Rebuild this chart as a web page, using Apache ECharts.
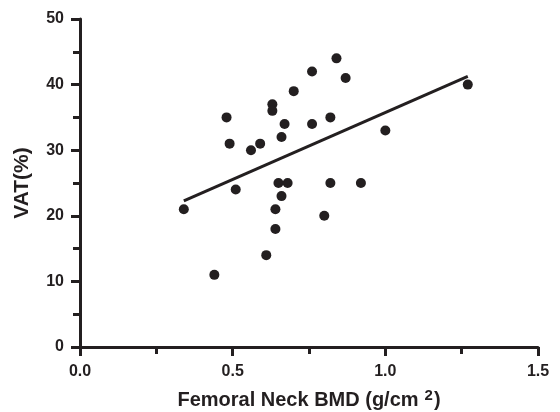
<!DOCTYPE html>
<html>
<head>
<meta charset="utf-8">
<script src="https://cdn.jsdelivr.net/npm/echarts@6/dist/echarts.min.js"></script>
<style>
  html, body { margin: 0; padding: 0; background: #fff; }
  #chart { width: 560px; height: 412px; }
</style>
</head>
<body>
<div id="chart"></div>
<script>
// femoral neck BMD (g/cm2) vs VAT (%)
var bmd = [0.48, 0.49, 0.56, 0.59, 0.63, 0.63, 0.67, 0.66, 0.70, 0.76, 0.76, 0.51, 0.65, 0.68,
           0.66, 0.84, 0.87, 0.82, 1.00, 1.27, 0.82, 0.92, 0.34, 0.44, 0.64, 0.64, 0.61, 0.80];
var vat = [35, 31, 30, 31, 37, 36, 34, 32, 39, 42, 34, 24, 25, 25,
           23, 44, 41, 35, 33, 40, 25, 25, 21, 11, 21, 18, 14, 20];
var xTicks = [0, 0.5, 1.0, 1.5];
var yTicks = [0, 10, 20, 30, 40, 50];

var ink = '#231f20';
var fontFamily = 'Liberation Sans, Arial, sans-serif';

// least squares fit drawn over the range of the data
function fitLine(xs, ys) {
    var n = xs.length, mx = 0, my = 0;
    for (var i = 0; i < n; i++) { mx += xs[i]; my += ys[i]; }
    mx /= n; my /= n;
    var sxy = 0, sxx = 0;
    for (var j = 0; j < n; j++) {
        sxy += (xs[j] - mx) * (ys[j] - my);
        sxx += (xs[j] - mx) * (xs[j] - mx);
    }
    var b = sxy / sxx, a = my - b * mx;
    var lo = Math.min.apply(null, xs), hi = Math.max.apply(null, xs);
    return [[lo, a + b * lo], [hi, a + b * hi]];
}

var points = bmd.map(function (x, i) { return [x, vat[i]]; });

var chart = echarts.init(document.getElementById('chart'));
chart.setOption({
    animation: false,
    grid: { left: 80, top: 19, width: 458, height: 328, outerBoundsMode: 'none', containLabel: false },
    xAxis: {
        type: 'value',
        min: xTicks[0],
        max: xTicks[xTicks.length - 1],
        interval: xTicks[1] - xTicks[0],
        splitLine: { show: false },
        axisLine: { lineStyle: { color: ink, width: 3 } },
        axisTick: { length: 9, lineStyle: { color: ink, width: 3 } },
        minorTick: { show: true, splitNumber: 2, length: 7, lineStyle: { color: ink, width: 3 } },
        axisLabel: {
            color: ink, fontFamily: fontFamily, fontWeight: 'bold', fontSize: 16, margin: 17,
            formatter: function (v) { return v.toFixed(1); }
        },
        name: '{t|Femoral Neck BMD (g/cm}{s|2}{t|)}',
        nameLocation: 'middle',
        nameGap: 41,
        nameTextStyle: {
            rich: {
                t: { color: ink, fontFamily: fontFamily, fontWeight: 'bold', fontSize: 20 },
                s: { color: ink, fontFamily: fontFamily, fontWeight: 'bold', fontSize: 15, verticalAlign: 'top', padding: [0, 1, 9, 6] }
            }
        }
    },
    yAxis: {
        type: 'value',
        min: yTicks[0],
        max: yTicks[yTicks.length - 1],
        interval: yTicks[1] - yTicks[0],
        splitLine: { show: false },
        axisLine: { show: true, lineStyle: { color: ink, width: 3 } },
        axisTick: { show: true, length: 9, lineStyle: { color: ink, width: 3 } },
        minorTick: { show: true, splitNumber: 2, length: 7, lineStyle: { color: ink, width: 3 } },
        axisLabel: { color: ink, fontFamily: fontFamily, fontWeight: 'bold', fontSize: 16, margin: 16 },
        name: 'VAT(%)',
        nameLocation: 'middle',
        nameGap: 47,
        nameTextStyle: { color: ink, fontFamily: fontFamily, fontWeight: 'bold', fontSize: 21 }
    },
    series: [
        {
            type: 'scatter',
            data: points,
            symbol: 'circle',
            symbolSize: 10,
            itemStyle: { color: ink, opacity: 1 }
        },
        {
            type: 'line',
            data: fitLine(bmd, vat),
            showSymbol: false,
            lineStyle: { color: ink, width: 3 },
            z: 1
        }
    ]
});
</script>
</body>
</html>
